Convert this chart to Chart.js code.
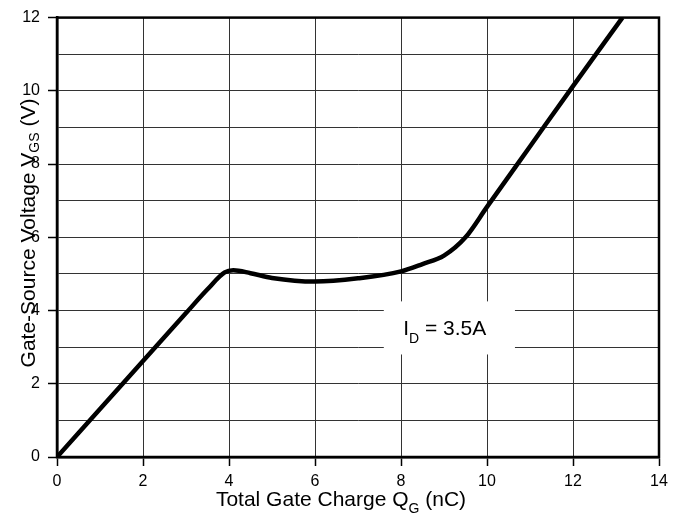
<!DOCTYPE html>
<html>
<head>
<meta charset="utf-8">
<script src="https://cdn.jsdelivr.net/npm/chart.js@4.4.0/dist/chart.umd.min.js"></script>
<style>
  body { margin: 0; background: #fff; }
</style>
</head>
<body>
<canvas id="chart" width="686" height="518"></canvas>
<script>
// gate charge curve
const gateCharge = [0, 1, 2, 3, 3.5, 3.9, 4.1, 4.5, 5, 6, 7, 8, 8.5, 9, 9.5, 10, 11, 12, 13.15];
const gateVoltage = [0, 1.31, 2.62, 3.93, 4.58, 5.04, 5.1, 5.02, 4.89, 4.79, 4.88, 5.07, 5.27, 5.5, 6.0, 6.83, 8.48, 10.13, 12];

const xTickValues = [0, 2, 4, 6, 8, 10, 12, 14];
const yGridValues = [0, 1, 2, 3, 4, 5, 6, 7, 8, 9, 10, 11, 12];
const yLabelValues = [0, 2, 4, 6, 8, 10, 12];

const FONT = '"Liberation Sans", Arial, sans-serif';

// text run with subscripts, left aligned at x
function subText(ctx, x, y, parts) {
  let cx = x;
  parts.forEach(p => {
    ctx.font = p.size + 'px ' + FONT;
    ctx.fillText(p.text, cx, y + (p.dy || 0));
    cx += ctx.measureText(p.text).width;
  });
}
function subWidth(ctx, parts) {
  let w = 0;
  parts.forEach(p => {
    ctx.font = p.size + 'px ' + FONT;
    w += ctx.measureText(p.text).width;
  });
  return w;
}

const decorations = {
  id: 'decorations',
  afterDatasetsDraw(chart) {
    const { ctx, chartArea: a, scales } = chart;
    const x = scales.x, y = scales.y;
    ctx.save();

    // I_D label box
    const bl = x.getPixelForValue(7.6), br = x.getPixelForValue(10.65);
    const bt = y.getPixelForValue(4.25), bb = y.getPixelForValue(2.8);
    ctx.fillStyle = '#fff';
    ctx.fillRect(bl, bt, br - bl, bb - bt);
    ctx.fillStyle = '#000';
    ctx.textBaseline = 'alphabetic';
    ctx.textAlign = 'left';
    subText(ctx, x.getPixelForValue(8.05), 335, [
      { text: 'I', size: 21 },
      { text: 'D', size: 14, dy: 8 },
      { text: ' = 3.5A', size: 21 }
    ]);

    // frame
    ctx.strokeStyle = '#000';
    ctx.lineWidth = 2.5;
    ctx.strokeRect(a.left, a.top, a.right - a.left, a.bottom - a.top);

    // x title
    const xParts = [
      { text: 'Total Gate Charge Q', size: 21 },
      { text: 'G', size: 14, dy: 7 },
      { text: ' (nC)', size: 21 }
    ];
    subText(ctx, 341 - subWidth(ctx, xParts) / 2, 506, xParts);

    // y title, rotated
    const yParts = [
      { text: 'Gate-Source Voltage V', size: 21 },
      { text: 'GS', size: 14, dy: 4 },
      { text: ' (V)', size: 21 }
    ];
    ctx.translate(35, 233);
    ctx.rotate(-Math.PI / 2);
    subText(ctx, -subWidth(ctx, yParts) / 2, 0, yParts);

    ctx.restore();
  }
};

new Chart(document.getElementById('chart'), {
  type: 'scatter',
  data: {
    datasets: [{
      data: gateCharge.map((q, i) => ({ x: q, y: gateVoltage[i] })),
      showLine: true,
      borderColor: '#000',
      borderWidth: 4.5,
      pointRadius: 0,
      cubicInterpolationMode: 'monotone',
      fill: false
    }]
  },
  options: {
    responsive: false,
    animation: false,
    layout: { padding: { top: 14, right: 27, left: 0, bottom: 0 } },
    plugins: { legend: { display: false }, tooltip: { enabled: false } },
    scales: {
      x: {
        type: 'linear',
        min: 0,
        max: 14,
        afterBuildTicks: s => { s.ticks = xTickValues.map(v => ({ value: v })); },
        afterFit: s => { s.height = 61; },
        grid: { color: '#333', lineWidth: 1, tickLength: 9, tickColor: '#000', tickWidth: 1.5 },
        border: { display: true, color: '#000', width: 2.5 },
        ticks: { color: '#000', padding: 6, font: { family: FONT, size: 16 }, maxRotation: 0 }
      },
      y: {
        type: 'linear',
        min: 0,
        max: 12,
        afterBuildTicks: s => { s.ticks = yGridValues.map(v => ({ value: v })); },
        afterFit: s => { s.width = 57; },
        grid: {
          color: '#333',
          lineWidth: 1,
          tickLength: 9,
          tickWidth: 1.5,
          tickColor: c => (c.tick && yLabelValues.includes(c.tick.value)) ? '#000' : 'rgba(0,0,0,0)'
        },
        border: { display: true, color: '#000', width: 2.5 },
        ticks: {
          color: '#000',
          padding: 8,
          font: { family: FONT, size: 16 },
          callback: v => yLabelValues.includes(v) ? String(v) : ''
        }
      }
    }
  },
  plugins: [decorations]
});
</script>
</body>
</html>
